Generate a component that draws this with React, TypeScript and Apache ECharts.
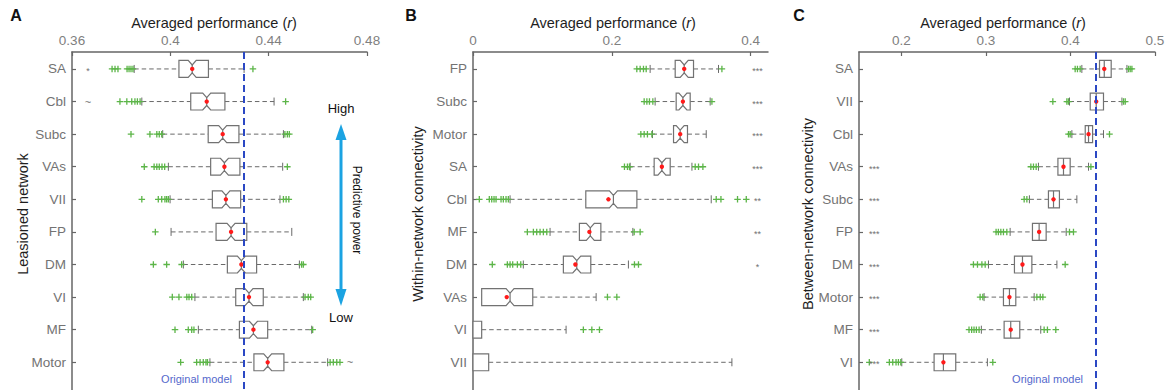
import React, { useEffect, useRef } from 'react';
import * as echarts from 'echarts';

// ---------- Panel A: lesioned network ----------
const catsA = ['SA', 'Cbl', 'Subc', 'VAs', 'VII', 'FP', 'DM', 'VI', 'MF', 'Motor'];
// [lower whisker, Q1, median, Q3, upper whisker]
const statsA: number[][] = [
  [0.3853, 0.4035, 0.4089, 0.4155, 0.43],
  [0.3884, 0.4083, 0.4148, 0.4222, 0.4422],
  [0.3969, 0.4154, 0.4213, 0.4279, 0.446],
  [0.3992, 0.4164, 0.422, 0.4283, 0.4457],
  [0.3999, 0.4171, 0.4226, 0.4286, 0.4446],
  [0.4003, 0.4186, 0.4247, 0.4311, 0.4494],
  [0.4053, 0.4232, 0.4289, 0.4351, 0.4525],
  [0.41, 0.4266, 0.432, 0.4378, 0.4541],
  [0.4114, 0.4281, 0.4338, 0.4396, 0.4575],
  [0.4161, 0.434, 0.4396, 0.4462, 0.464],
];
const meansA = [0.4089, 0.4148, 0.4213, 0.422, 0.4226, 0.4247, 0.4289, 0.432, 0.4338, 0.4396];
const outliersA: number[][] = [
  [0.3763, 0.3775, 0.3787, 0.3824, 0.3832, 0.384, 0.3848, 0.4336],
  [0.3795, 0.3823, 0.3843, 0.3856, 0.3866, 0.3877, 0.4469],
  [0.384, 0.3917, 0.3945, 0.3955, 0.3965, 0.4466, 0.4476, 0.4484],
  [0.3894, 0.3934, 0.3945, 0.3955, 0.3966, 0.3977, 0.4476],
  [0.3884, 0.3951, 0.3965, 0.3978, 0.3985, 0.3992, 0.446, 0.4471, 0.4482],
  [0.3939],
  [0.3931, 0.3985, 0.4046, 0.4534, 0.4541],
  [0.4008, 0.4035, 0.4067, 0.4076, 0.4087, 0.4548, 0.4561, 0.4571],
  [0.4019, 0.4073, 0.4087, 0.4096, 0.4579],
  [0.4042, 0.4107, 0.4121, 0.4134, 0.4145, 0.4151, 0.465, 0.4663, 0.4677, 0.469],
];
// significance marks: [row, x value, text]
const sigA: [number, number, string][] = [
  [0, 0.3665, '*'],
  [1, 0.3665, '~'],
  [9, 0.4731, '~'],
];
const ticksA = [0.36, 0.4, 0.44, 0.48];

// ---------- Panel B: within-network connectivity ----------
const catsB = ['FP', 'Subc', 'Motor', 'SA', 'Cbl', 'MF', 'DM', 'VAs', 'VI', 'VII'];
const statsB: number[][] = [
  [0.2552, 0.2913, 0.3043, 0.3177, 0.3537],
  [0.2624, 0.2927, 0.3024, 0.3129, 0.3417],
  [0.2586, 0.2889, 0.2985, 0.309, 0.336],
  [0.2264, 0.261, 0.2721, 0.2841, 0.3154],
  [0.0534, 0.1625, 0.2023, 0.2361, 0.3432],
  [0.111, 0.1533, 0.169, 0.1842, 0.2303],
  [0.0725, 0.1302, 0.1495, 0.1697, 0.2239],
  [0.0125, 0.0125, 0.0534, 0.0861, 0.1774],
  [0, 0, 0, 0.0125, 0.1341],
  [0, 0, 0, 0.0226, 0.373],
];
const meansB: (number | null)[] = [0.3043, 0.3024, 0.2985, 0.2721, 0.1951, 0.1677, 0.1475, 0.0486, null, null];
const outliersB: number[][] = [
  [0.236, 0.2408, 0.2456, 0.2495, 0.3586],
  [0.2466, 0.2505, 0.2542, 0.2591, 0.3442],
  [0.2418, 0.2466, 0.2513, 0.2577],
  [0.2182, 0.2225, 0.2254, 0.3201, 0.3249, 0.3312],
  [0.0091, 0.0235, 0.027, 0.0303, 0.0332, 0.0404, 0.0437, 0.0476, 0.0509, 0.3504, 0.3572, 0.3811, 0.3937],
  [0.0783, 0.087, 0.0918, 0.0966, 0.1014, 0.1063, 0.2322, 0.2408],
  [0.0278, 0.0495, 0.0534, 0.0572, 0.0639, 0.0688, 0.2326, 0.2384],
  [0.1937, 0.2072],
  [0.159, 0.1712, 0.1822],
  [],
];
const sigB: [number, number, string][] = [
  [0, 0.41, '***'], [1, 0.41, '***'], [2, 0.41, '***'], [3, 0.41, '***'],
  [4, 0.41, '**'], [5, 0.41, '**'], [6, 0.41, '*'],
];
const ticksB = [0, 0.2, 0.4];

// ---------- Panel C: between-network connectivity ----------
const catsC = ['SA', 'VII', 'Cbl', 'VAs', 'Subc', 'FP', 'DM', 'Motor', 'MF', 'VI'];
const statsC: number[][] = [
  [0.4135, 0.4344, 0.44, 0.4482, 0.4668],
  [0.3989, 0.4234, 0.4305, 0.4391, 0.4609],
  [0.4017, 0.4175, 0.4214, 0.4262, 0.4391],
  [0.3622, 0.3852, 0.3918, 0.3997, 0.4214],
  [0.3515, 0.374, 0.38, 0.387, 0.4076],
  [0.3287, 0.3551, 0.363, 0.3713, 0.395],
  [0.3031, 0.3338, 0.3433, 0.3544, 0.384],
  [0.2979, 0.3208, 0.3279, 0.3354, 0.3571],
  [0.2947, 0.3216, 0.3294, 0.3401, 0.3649],
  [0.2006, 0.2388, 0.2498, 0.2644, 0.3018],
];
const meansC = [0.44, 0.4305, 0.4214, 0.3918, 0.38, 0.363, 0.3433, 0.3279, 0.3294, 0.2498];
const outliersC: number[][] = [
  [0.4056, 0.4083, 0.4115, 0.4687, 0.4707, 0.4727],
  [0.3792, 0.3958, 0.3977, 0.4628, 0.4648],
  [0.3977, 0.3997, 0.4462],
  [0.3532, 0.3563, 0.3595, 0.4242],
  [0.3453, 0.3485],
  [0.3121, 0.3148, 0.3177, 0.3208, 0.3248, 0.3989, 0.4036],
  [0.2853, 0.2901, 0.2953, 0.2992, 0.3938],
  [0.2932, 0.2964, 0.3603, 0.3643, 0.3674],
  [0.2801, 0.2832, 0.286, 0.2888, 0.292, 0.3689, 0.3728, 0.3827],
  [0.1622, 0.1859, 0.1899, 0.1938, 0.1966, 0.1994, 0.3082],
];
const sigC: [number, number, string][] = [
  [3, 0.168, '***'], [4, 0.168, '***'], [5, 0.168, '***'], [6, 0.168, '***'],
  [7, 0.168, '***'], [8, 0.168, '***'], [9, 0.168, '***'],
];
const ticksC = [0.2, 0.3, 0.4, 0.5];

const originalModel = 0.43;

const FONT = '"Liberation Sans", Arial, Helvetica, sans-serif';
const GREEN = '#5cb548';
const PLUS = 'path://M4,0h2v4h4v2h-4v4h-2v-4h-4v-2h4z';
const rowIdx = [0, 1, 2, 3, 4, 5, 6, 7, 8, 9];

function makeBoxRender(stats: number[][], means: (number | null)[], notchW: number, notchD: number) {
  return (params: any, api: any) => {
    const i = params.dataIndex;
    const [low, q1, med, q3, high] = stats[i];
    const X = (v: number) => api.coord([v, i])[0];
    const yc = api.coord([q1, i])[1];
    const h = api.size([0, 1])[1] * 0.26;
    const xl = X(low), x1 = X(q1), xm = X(med), x3 = X(q3), xh = X(high);
    const children: any[] = [];
    const dash = { stroke: '#6a6a6a', lineWidth: 1, lineDash: [4.5, 3], fill: null };
    const solid = { stroke: '#6a6a6a', lineWidth: 1, fill: null };
    if (x1 - xl > 0.5) {
      children.push({ type: 'line', shape: { x1: xl, y1: yc, x2: x1, y2: yc }, style: dash });
      children.push({ type: 'line', shape: { x1: xl, y1: yc - 4, x2: xl, y2: yc + 4 }, style: solid });
    }
    if (xh - x3 > 0.5) {
      children.push({ type: 'line', shape: { x1: x3, y1: yc, x2: xh, y2: yc }, style: dash });
      children.push({ type: 'line', shape: { x1: xh, y1: yc - 4, x2: xh, y2: yc + 4 }, style: solid });
    }
    let nw = Math.min(notchW, xm - x1, x3 - xm);
    const d = nw >= 1.5 ? notchD : 0;
    if (d === 0) nw = 0;
    const top = yc - h, bot = yc + h;
    const pts = [
      [x1, top], [xm - nw, top], [xm, top + d], [xm + nw, top], [x3, top],
      [x3, bot], [xm + nw, bot], [xm, bot - d], [xm - nw, bot], [x1, bot],
    ];
    children.push({ type: 'polygon', shape: { points: pts }, style: { fill: '#ffffff', stroke: '#727272', lineWidth: 1.2 } });
    if (xm > x1 + 0.5) {
      children.push({ type: 'line', shape: { x1: xm, y1: top + d, x2: xm, y2: bot - d }, style: { stroke: '#727272', lineWidth: 1.2 } });
    }
    const m = means[i];
    if (m !== null && m !== undefined) {
      children.push({ type: 'circle', shape: { cx: X(m), cy: yc, r: 2.2 }, style: { fill: '#ff1a1a' } });
    }
    return { type: 'group', children };
  };
}

function makeSigRender(sig: [number, number, string][]) {
  return (params: any, api: any) => {
    const [r, v, t] = sig[params.dataIndex];
    const p = api.coord([v, r]);
    return {
      type: 'text',
      x: p[0],
      y: p[1] + (t === '~' ? 0 : 2),
      style: { text: t, fill: '#707070', font: `${t === '~' ? 11 : 9}px ${FONT}`, align: 'center', verticalAlign: 'middle' },
    };
  };
}

function xAxisCfg(idx: number, min: number, max: number, ticks: number[]) {
  return {
    gridIndex: idx,
    type: 'value',
    position: 'top',
    min,
    max,
    axisLine: { onZero: false, lineStyle: { color: '#666', width: 1.5 } },
    axisTick: { inside: true, length: 4, customValues: ticks, lineStyle: { color: '#666', width: 1.2 } },
    axisLabel: {
      customValues: ticks,
      margin: 5,
      color: '#808080',
      fontSize: 13.5,
      fontFamily: FONT,
      formatter: (v: number) => String(+v.toFixed(2)),
    },
    splitLine: { show: false },
  };
}

function yAxisCfg(idx: number, cats: string[]) {
  return {
    gridIndex: idx,
    type: 'value',
    inverse: true,
    min: -0.52,
    max: 9.85,
    axisLine: { onZero: false, lineStyle: { color: '#666', width: 1.5 } },
    axisTick: { inside: true, length: 4, customValues: rowIdx, lineStyle: { color: '#666', width: 1.2 } },
    axisLabel: {
      customValues: rowIdx,
      margin: 6,
      color: '#737373',
      fontSize: 13.5,
      fontFamily: FONT,
      formatter: (v: number) => cats[Math.round(v)] ?? '',
    },
    splitLine: { show: false },
  };
}

function panelSeries(idx: number, stats: number[][], means: (number | null)[], outliers: number[][], sig: [number, number, string][], notchW: number, notchD: number, withLine: boolean) {
  const series: any[] = [
    {
      type: 'custom',
      xAxisIndex: idx,
      yAxisIndex: idx,
      renderItem: makeBoxRender(stats, means, notchW, notchD),
      data: stats.map((s, i) => [i, ...s]),
      encode: { x: [1, 2, 3, 4, 5], y: 0 },
      z: 2,
      clip: false,
    },
    {
      type: 'scatter',
      xAxisIndex: idx,
      yAxisIndex: idx,
      symbol: PLUS,
      symbolSize: 6.5,
      itemStyle: { color: GREEN, opacity: 1 },
      data: outliers.flatMap((arr, i) => arr.map((v) => [v, i])),
      z: 3,
      markLine: withLine
        ? {
            silent: true,
            symbol: 'none',
            label: { show: false },
            lineStyle: { color: '#2b48c4', width: 2, type: [7, 4] },
            data: [{ xAxis: originalModel }],
          }
        : undefined,
    },
    {
      type: 'custom',
      xAxisIndex: idx,
      yAxisIndex: idx,
      renderItem: makeSigRender(sig),
      data: sig.map((s) => [s[1], s[0]]),
      encode: { x: 0, y: 1 },
      z: 4,
      clip: false,
    },
  ];
  return series;
}

const titleRich = {
  a: { fontSize: 14.5, fontFamily: FONT, fill: '#1e1e1e' },
  i: { fontSize: 14.5, fontFamily: FONT, fill: '#1e1e1e', fontStyle: 'italic' },
};

function title(x: number) {
  return {
    type: 'text',
    x,
    y: 23,
    style: { text: '{a|Averaged performance (}{i|r}{a|)}', rich: titleRich, align: 'center', verticalAlign: 'middle' },
  };
}

function letter(x: number, t: string) {
  return {
    type: 'text',
    x,
    y: 15,
    style: { text: t, font: `bold 16px ${FONT}`, fill: '#111', align: 'center', verticalAlign: 'middle' },
  };
}

function yName(x: number, t: string) {
  return {
    type: 'text',
    x,
    y: 214,
    rotation: Math.PI / 2,
    style: { text: t, font: `14.5px ${FONT}`, fill: '#1e1e1e', align: 'center', verticalAlign: 'middle' },
  };
}

export default function App() {
  const ref = useRef<HTMLDivElement>(null);
  useEffect(() => {
    document.body.style.margin = '0';
    const chart = echarts.init(ref.current!, undefined, { renderer: 'svg' });
    const arrowColor = '#1ba3e2';
    chart.setOption({
      animation: false,
      grid: [
        { left: 72, top: 52, width: 295, bottom: 0 },
        { left: 473, top: 52, width: 295, bottom: 0 },
        { left: 859, top: 52, width: 296, bottom: 0 },
      ],
      xAxis: [
        xAxisCfg(0, 0.36, 0.48, ticksA),
        xAxisCfg(1, 0, 0.425, ticksB),
        xAxisCfg(2, 0.15, 0.5, ticksC),
      ],
      yAxis: [yAxisCfg(0, catsA), yAxisCfg(1, catsB), yAxisCfg(2, catsC)],
      series: [
        ...panelSeries(0, statsA, meansA, outliersA, sigA, 4, 4.5, true),
        ...panelSeries(1, statsB, meansB, outliersB, sigB, 4, 4.5, false),
        ...panelSeries(2, statsC, meansC, outliersC, sigC, 0, 0, true),
      ],
      graphic: [
        letter(16, 'A'),
        letter(411, 'B'),
        letter(799, 'C'),
        title(214),
        title(613),
        title(1003),
        yName(23, 'Leasioned network'),
        yName(418, 'Within-network connectivity'),
        yName(808, 'Between-network connectivity'),
        {
          type: 'text', x: 341, y: 108,
          style: { text: 'High', font: `13px ${FONT}`, fill: '#111', align: 'center', verticalAlign: 'middle' },
        },
        {
          type: 'text', x: 341, y: 317,
          style: { text: 'Low', font: `13px ${FONT}`, fill: '#111', align: 'center', verticalAlign: 'middle' },
        },
        {
          type: 'text', x: 357, y: 210, rotation: -Math.PI / 2,
          style: { text: 'Predictive power', font: `12px ${FONT}`, fill: '#111', align: 'center', verticalAlign: 'middle' },
        },
        { type: 'line', shape: { x1: 341, y1: 136, x2: 341, y2: 294 }, style: { stroke: arrowColor, lineWidth: 3 } },
        { type: 'polygon', shape: { points: [[341, 124], [335.5, 140], [346.5, 140]] }, style: { fill: arrowColor } },
        { type: 'polygon', shape: { points: [[341, 306], [335.5, 289], [346.5, 289]] }, style: { fill: arrowColor } },
        {
          type: 'text', x: 232, y: 379,
          style: { text: 'Original model', font: `11px ${FONT}`, fill: '#5569cc', align: 'right', verticalAlign: 'middle' },
        },
        {
          type: 'text', x: 1083, y: 379,
          style: { text: 'Original model', font: `11px ${FONT}`, fill: '#5569cc', align: 'right', verticalAlign: 'middle' },
        },
      ],
    });
    return () => chart.dispose();
  }, []);
  return <div ref={ref} style={{ width: 1169, height: 390 }} />;
}
